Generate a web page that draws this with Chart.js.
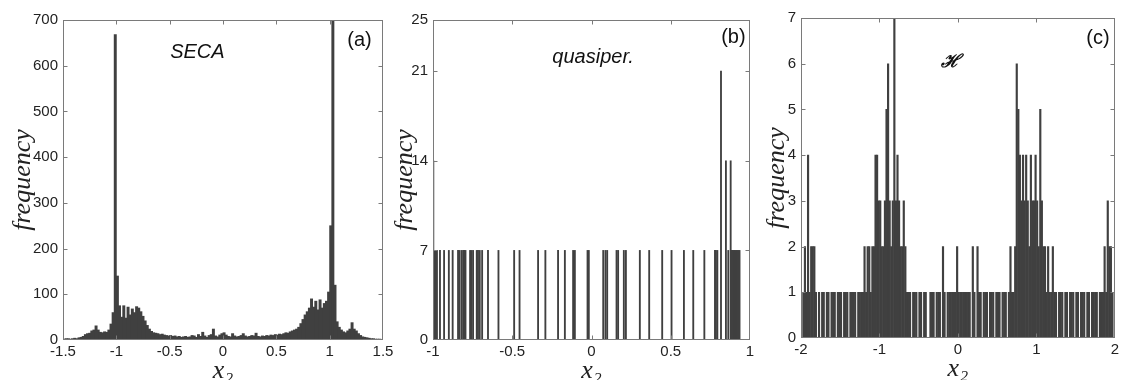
<!DOCTYPE html>
<html>
<head>
<meta charset="utf-8">
<script src="https://cdn.jsdelivr.net/npm/chart.js@4.4.1/dist/chart.umd.min.js"></script>
<style>
    html, body { margin: 0; padding: 0; background: #fff; width: 1122px; height: 380px; overflow: hidden; }
    canvas { position: absolute; top: 0; }
</style>
</head>
<body>
<canvas id="panelA" width="400" height="390" style="left:0px"></canvas>
<canvas id="panelB" width="395" height="390" style="left:370px"></canvas>
<canvas id="panelC" width="377" height="390" style="left:745px"></canvas>
<script>
// (a) SECA histogram, bins of 0.02 starting at -1.49
const secaStart = -1.49;
const secaBin = 0.02;
const secaCounts = [
    2, 3, 3, 2, 3, 4, 3, 5, 6, 8,
    12, 14, 15, 20, 22, 31, 22, 17, 16, 18,
    17, 22, 35, 60, 668, 140, 75, 50, 75, 48,
    72, 55, 68, 60, 73, 70, 62, 52, 42, 32,
    24, 19, 16, 15, 14, 12, 13, 11, 10, 9,
    10, 8, 9, 7, 8, 6, 7, 8, 6, 7,
    10, 9, 6, 12, 8, 17, 9, 6, 10, 12,
    24, 9, 7, 11, 14, 16, 11, 8, 7, 14,
    9, 7, 8, 10, 14, 9, 7, 8, 10, 9,
    15, 8, 7, 9, 8, 10, 9, 11, 10, 12,
    11, 13, 12, 14, 16, 15, 18, 20, 22, 24,
    28, 36, 45, 55, 62, 70, 90, 72, 85, 66,
    88, 70, 80, 85, 105, 250, 700, 120, 40, 28,
    22, 18, 16, 20, 24, 38, 24, 20, 14, 10,
    7, 6, 5, 4, 3, 3, 2, 2, 2, 1
];

// (b) quasiperiodic: single lines
const quasiX = [
    -0.998, -0.993, -0.988, -0.983, -0.975, -0.956, -0.930, -0.900, -0.876, -0.842,
    -0.833, -0.820, -0.810, -0.804, -0.795, -0.766, -0.757, -0.747, -0.724, -0.716,
    -0.705, -0.690, -0.653, -0.587, -0.488, -0.454, -0.337, -0.291, -0.211, -0.168,
    -0.116, -0.105, -0.025, -0.017, 0.074, 0.088, 0.099, 0.158, 0.168, 0.204,
    0.217, 0.305, 0.364, 0.446, 0.505, 0.583, 0.642, 0.712, 0.779, 0.785,
    0.794, 0.817, 0.848, 0.863, 0.878, 0.886, 0.892, 0.898, 0.904, 0.910,
    0.916, 0.922, 0.928, 0.934
];
const quasiY = [
    14, 7, 7, 7, 7, 7, 7, 7, 7, 7,
    7, 7, 7, 7, 7, 7, 7, 7, 7, 7,
    7, 7, 7, 7, 7, 7, 7, 7, 7, 7,
    7, 7, 7, 7, 7, 7, 7, 7, 7, 7,
    7, 7, 7, 7, 7, 7, 7, 7, 7, 7,
    7, 21, 14, 7, 14, 7, 7, 7, 7, 7,
    7, 7, 7, 7
];
const quasiTicks = [0, 7, 14, 21, 25];

// (c) hyperchaotic histogram, bins of 0.02 starting at -1.97
const hypStart = -1.97;
const hypBin = 0.02;
const hypCounts = [
    1, 2, 1, 4, 1, 2, 2, 2, 1, 0,
    1, 0, 1, 1, 0, 1, 1, 0, 1, 1,
    1, 0, 1, 1, 1, 0, 1, 1, 1, 0,
    1, 1, 1, 1, 0, 1, 1, 1, 1, 2,
    1, 2, 2, 1, 2, 2, 4, 4, 3, 3,
    2, 2, 3, 5, 6, 3, 2, 3, 7, 3,
    4, 3, 2, 2, 3, 2, 1, 1, 1, 0,
    1, 1, 1, 0, 1, 1, 0, 1, 1, 0,
    0, 1, 1, 1, 0, 1, 1, 1, 0, 2,
    1, 0, 1, 1, 1, 1, 1, 1, 2, 1,
    1, 1, 1, 1, 1, 1, 1, 0, 2, 1,
    0, 2, 1, 1, 0, 1, 1, 1, 0, 1,
    1, 1, 0, 1, 1, 1, 0, 1, 1, 1,
    0, 1, 2, 1, 1, 2, 6, 5, 4, 3,
    4, 3, 4, 3, 2, 4, 3, 3, 4, 3,
    2, 5, 3, 2, 2, 1, 2, 1, 1, 2,
    1, 1, 0, 1, 1, 1, 0, 1, 1, 0,
    1, 1, 1, 0, 1, 1, 0, 1, 1, 1,
    0, 1, 1, 0, 1, 1, 1, 1, 0, 1,
    1, 1, 2, 1, 3, 2, 2, 1
];

const barColor = "#404040";
const tickFont = { family: "'Liberation Sans', Arial, sans-serif", size: 15 };
const titleFont = { family: "'Liberation Serif', 'Times New Roman', serif", style: "italic", size: 26, lineHeight: 1 };

// MATLAB style box with inward ticks on all four sides
const boxPlugin = {
    id: "matlabBox",
    afterDatasetsDraw(chart) {
        const { ctx, chartArea: a, scales: { x, y } } = chart;
        const l = Math.round(a.left) + 0.5, r = Math.round(a.right) - 0.5;
        const t = Math.round(a.top) + 0.5, b = Math.round(a.bottom) - 0.5;
        ctx.save();
        ctx.strokeStyle = "#7a7a7a";
        ctx.lineWidth = 1;
        ctx.strokeRect(l, t, r - l, b - t);
        ctx.beginPath();
        x.ticks.forEach(tk => {
            const px = Math.round(x.getPixelForValue(tk.value)) + 0.5;
            if (px <= l + 1 || px >= r - 1) return;
            ctx.moveTo(px, b); ctx.lineTo(px, b - 4);
            ctx.moveTo(px, t); ctx.lineTo(px, t + 4);
        });
        y.ticks.forEach(tk => {
            const py = Math.round(y.getPixelForValue(tk.value)) + 0.5;
            if (py <= t + 1 || py >= b - 1) return;
            ctx.moveTo(l, py); ctx.lineTo(l + 4, py);
            ctx.moveTo(r, py); ctx.lineTo(r - 4, py);
        });
        ctx.stroke();
        ctx.restore();
    }
};

// text labels placed in data coordinates
const labelPlugin = {
    id: "panelLabels",
    afterDraw(chart, args, opts) {
        const { ctx, scales: { x, y } } = chart;
        (opts.items || []).forEach(it => {
            ctx.save();
            ctx.font = it.font;
            ctx.fillStyle = "#111";
            ctx.textAlign = "center";
            ctx.textBaseline = "middle";
            ctx.fillText(it.text, x.getPixelForValue(it.x), y.getPixelForValue(it.y));
            ctx.restore();
        });
    }
};

const plainNumber = (v) => String(Number(v.toFixed(2)));

function makePanel(id, cfg) {
    const ctx = document.getElementById(id).getContext("2d");
    return new Chart(ctx, {
        type: "bar",
        data: {
            datasets: [{
                data: cfg.points,
                backgroundColor: barColor,
                borderWidth: 0,
                barThickness: cfg.barThickness
            }]
        },
        options: {
            responsive: false,
            animation: false,
            devicePixelRatio: 1,
            layout: { padding: cfg.padding },
            plugins: {
                legend: { display: false },
                tooltip: { enabled: false },
                panelLabels: { items: cfg.labels }
            },
            scales: {
                x: {
                    type: "linear",
                    offset: false,
                    min: cfg.xMin,
                    max: cfg.xMax,
                    grid: { display: false, drawTicks: false },
                    border: { display: false },
                    ticks: { stepSize: cfg.xStep, autoSkip: false, maxRotation: 0, padding: 3, color: "#222", font: tickFont, callback: plainNumber },
                    title: { display: true, text: "x₂", color: "#222", font: titleFont, padding: { top: 0, bottom: cfg.xTitlePad } },
                    afterFit: (scale) => { scale.height = cfg.xHeight; }
                },
                y: {
                    min: 0,
                    max: cfg.yMax,
                    grid: { display: false, drawTicks: false },
                    border: { display: false },
                    ticks: { stepSize: cfg.yStep, padding: 5, color: "#222", font: tickFont, callback: plainNumber },
                    title: { display: true, text: "frequency", color: "#222", font: titleFont, padding: { top: cfg.yTitlePad, bottom: 0 } },
                    afterBuildTicks: cfg.yTicks ? (scale) => { scale.ticks = cfg.yTicks.map(v => ({ value: v })); } : undefined,
                    afterFit: (scale) => { scale.width = cfg.yWidth; }
                }
            }
        },
        plugins: [boxPlugin, labelPlugin]
    });
}

document.addEventListener("DOMContentLoaded", () => {
    makePanel("panelA", {
        points: secaCounts.map((c, i) => ({ x: secaStart + i * secaBin, y: c })),
        barThickness: 2.3,
        padding: { top: 20, right: 17, left: 0, bottom: 0 },
        xMin: -1.5, xMax: 1.5, xStep: 0.5,
        yMax: 700, yStep: 100,
        yWidth: 63, xHeight: 50, yTitlePad: 10, xTitlePad: 6,
        labels: [
            { text: "SECA", x: -0.24, y: 628, font: "italic 20px 'Liberation Sans', Arial, sans-serif" },
            { text: "(a)", x: 1.28, y: 655, font: "20px 'Liberation Sans', Arial, sans-serif" }
        ]
    });

    makePanel("panelB", {
        points: quasiX.map((v, i) => ({ x: v, y: quasiY[i] })),
        barThickness: 1.2,
        padding: { top: 20, right: 15, left: 0, bottom: 0 },
        xMin: -1, xMax: 1, xStep: 0.5,
        yMax: 25, yStep: 7, yTicks: quasiTicks,
        yWidth: 63, xHeight: 50, yTitlePad: 22, xTitlePad: 6,
        labels: [
            { text: "quasiper.", x: 0.01, y: 22.1, font: "italic 20px 'Liberation Sans', Arial, sans-serif" },
            { text: "(b)", x: 0.895, y: 23.6, font: "20px 'Liberation Sans', Arial, sans-serif" }
        ]
    });

    makePanel("panelC", {
        points: hypCounts.map((c, i) => ({ x: hypStart + i * hypBin, y: c })),
        barThickness: 1.5,
        padding: { top: 18, right: 5, left: 0, bottom: 0 },
        xMin: -2, xMax: 2, xStep: 1,
        yMax: 7, yStep: 1,
        yWidth: 56, xHeight: 52, yTitlePad: 19, xTitlePad: 8,
        labels: [
            { text: "ℋ", x: -0.1, y: 6.04, font: "italic bold 18px 'DejaVu Serif', serif" },
            { text: "(c)", x: 1.785, y: 6.56, font: "20px 'Liberation Sans', Arial, sans-serif" }
        ]
    });
});
</script>
</body>
</html>
